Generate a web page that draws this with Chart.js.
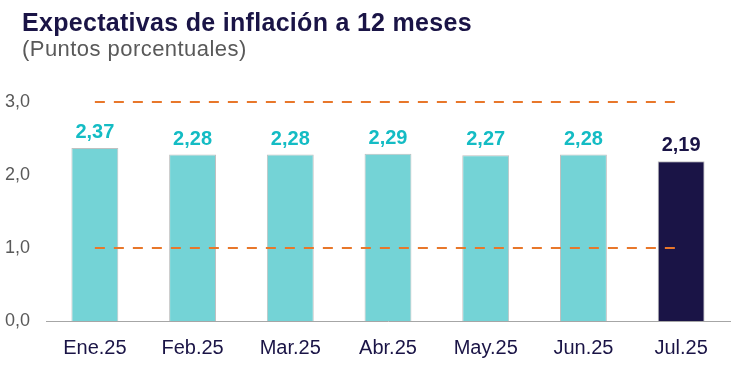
<!DOCTYPE html>
<html>
<head>
<meta charset="utf-8">
<script src="https://cdn.jsdelivr.net/npm/chart.js@4.4.1/dist/chart.umd.min.js"></script>
<style>
  body { margin: 0; background: #fff; font-family: "Liberation Sans", Arial, sans-serif; }
  #wrap { position: relative; width: 731px; height: 365px; }
  #title { position: absolute; left: 22px; top: 10px; font-size: 25px; line-height: 1; font-weight: bold; color: #1a1446; white-space: nowrap; letter-spacing: 0.3px; }
  #sub { position: absolute; left: 22px; top: 38px; font-size: 22px; line-height: 1; color: #595959; white-space: nowrap; letter-spacing: 0.45px; }
  canvas { position: absolute; left: 0; top: 0; }
</style>
</head>
<body>
<div id="wrap">
  <canvas id="chart" width="731" height="365"></canvas>
  <div id="title">Expectativas de inflación a 12 meses</div>
  <div id="sub">(Puntos porcentuales)</div>
</div>
<script>
const months = ['Ene.25', 'Feb.25', 'Mar.25', 'Abr.25', 'May.25', 'Jun.25', 'Jul.25'];
const expectations = [2.37, 2.28, 2.28, 2.29, 2.27, 2.28, 2.19];
const upperBand = [3, 3, 3, 3, 3, 3, 3];
const lowerBand = [1, 1, 1, 1, 1, 1, 1];
const yTicks = [0, 1, 2, 3];

const cyan = '#74d3d6';
const navy = '#1a1446';
const labelCyan = '#14bcc4';
const orange = '#e8772a';

const fmt = v => v.toFixed(1).replace('.', ',');

// value labels above each bar
const barLabels = {
  id: 'barLabels',
  afterDatasetsDraw(chart) {
    const ctx = chart.ctx;
    const meta = chart.getDatasetMeta(2);
    ctx.save();
    ctx.font = 'bold 20px "Liberation Sans", Arial, sans-serif';
    ctx.textAlign = 'center';
    ctx.textBaseline = 'alphabetic';
    meta.data.forEach((bar, i) => {
      ctx.fillStyle = i === expectations.length - 1 ? navy : labelCyan;
      ctx.fillText(expectations[i].toFixed(2).replace('.', ','), bar.x, bar.y - 10);
    });
    ctx.restore();
  }
};

new Chart(document.getElementById('chart'), {
  data: {
    labels: months,
    datasets: [
      { type: 'line', data: upperBand, borderColor: orange, borderWidth: 2, borderDash: [10, 9],
        pointRadius: 0, fill: false, clip: false, order: 0 },
      { type: 'line', data: lowerBand, borderColor: orange, borderWidth: 2, borderDash: [10, 9],
        pointRadius: 0, fill: false, clip: false, order: 0 },
      { type: 'bar', data: expectations,
        backgroundColor: expectations.map((v, i) => i === expectations.length - 1 ? navy : cyan),
        borderColor: '#c0c0c0', borderWidth: 1,
        categoryPercentage: 1, barPercentage: 0.48, order: 1 }
    ]
  },
  options: {
    responsive: false,
    animation: false,
    layout: { padding: { top: 102, right: 1, bottom: 0, left: 0 } },
    plugins: { legend: { display: false }, tooltip: { enabled: false } },
    scales: {
      x: {
        grid: { display: false },
        border: { color: '#a6a6a6', width: 1 },
        ticks: { color: navy, padding: 7, font: { size: 20, family: '"Liberation Sans", Arial, sans-serif' } },
        afterFit: s => { s.height = 44; }
      },
      y: {
        min: 0, max: 3,
        afterBuildTicks: s => { s.ticks = yTicks.map(v => ({ value: v })); },
        grid: { display: false, drawTicks: false },
        border: { display: false },
        ticks: { color: '#595959', padding: 16, callback: v => fmt(v),
                 font: { size: 18, family: '"Liberation Sans", Arial, sans-serif' } },
        afterFit: s => { s.width = 46; }
      }
    }
  },
  plugins: [barLabels]
});
</script>
</body>
</html>
